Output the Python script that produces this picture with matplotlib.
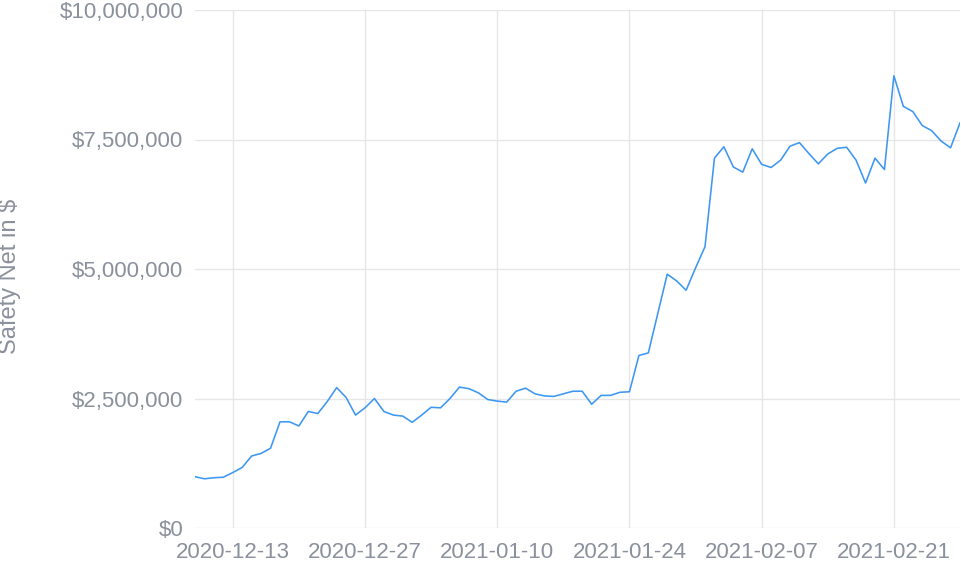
import matplotlib
matplotlib.use("Agg")
import matplotlib.pyplot as plt
import matplotlib.dates as mdates
import matplotlib.ticker as mticker
import numpy as np
import pandas as pd

start_date = "2020-12-09"
safety_net_millions = [
    0.99, 0.95, 0.97, 0.98, 1.07, 1.17, 1.39, 1.44, 1.54, 2.05,
    2.05, 1.97, 2.25, 2.21, 2.44, 2.71, 2.52, 2.18, 2.32, 2.50,
    2.25, 2.18, 2.16, 2.04, 2.18, 2.33, 2.32, 2.50, 2.72, 2.69,
    2.61, 2.48, 2.45, 2.43, 2.64, 2.70, 2.59, 2.55, 2.54, 2.59,
    2.64, 2.64, 2.39, 2.56, 2.56, 2.62, 2.63, 3.33, 3.38, 4.14,
    4.90, 4.77, 4.59, 5.02, 5.43, 7.14, 7.36, 6.97, 6.87, 7.32,
    7.02, 6.96, 7.10, 7.37, 7.44, 7.23, 7.03, 7.22, 7.33, 7.35,
    7.10, 6.66, 7.14, 6.92, 8.73, 8.14, 8.04, 7.77, 7.67, 7.47,
    7.34, 7.82,
]
x_tick_labels = ["2020-12-13", "2020-12-27", "2021-01-10",
                 "2021-01-24", "2021-02-07", "2021-02-21"]
y_ticks = [0, 2500000, 5000000, 7500000, 10000000]
y_label = "Safety Net in $"

dates = pd.date_range(start_date, periods=len(safety_net_millions), freq="D")
values = np.array(safety_net_millions) * 1e6

plt.rcParams["font.family"] = ["Liberation Sans", "DejaVu Sans"]
text_color = "#8a909c"
grid_color = "#e6e6e6"

fig = plt.figure(figsize=(9.61, 5.63), dpi=100)
ax = fig.add_axes([195 / 961, 35 / 563, (960 - 195) / 961, (528 - 10) / 563])

ax.plot(dates, values, color="#3d97f2", linewidth=1.15)

ax.set_xlim(dates[0], dates[-1])
ax.set_ylim(0, 10000000)
ax.set_yticks(y_ticks)
ax.yaxis.set_major_formatter(mticker.FuncFormatter(lambda v, p: f"${v:,.0f}"))
ax.set_xticks(pd.to_datetime(x_tick_labels))
ax.set_xticklabels(x_tick_labels)

ax.grid(True, color=grid_color, linewidth=1.0)
ax.set_axisbelow(True)
for s in ax.spines.values():
    s.set_visible(False)
ax.tick_params(axis="both", length=0, labelsize=16, colors=text_color)
ax.tick_params(axis="y", pad=8.5)
ax.tick_params(axis="x", pad=10)

ax.set_ylabel(y_label, color=text_color, fontsize=17)
ax.yaxis.set_label_coords(-174 / 765, 0.485)

fig.savefig("out.png", dpi=100)
